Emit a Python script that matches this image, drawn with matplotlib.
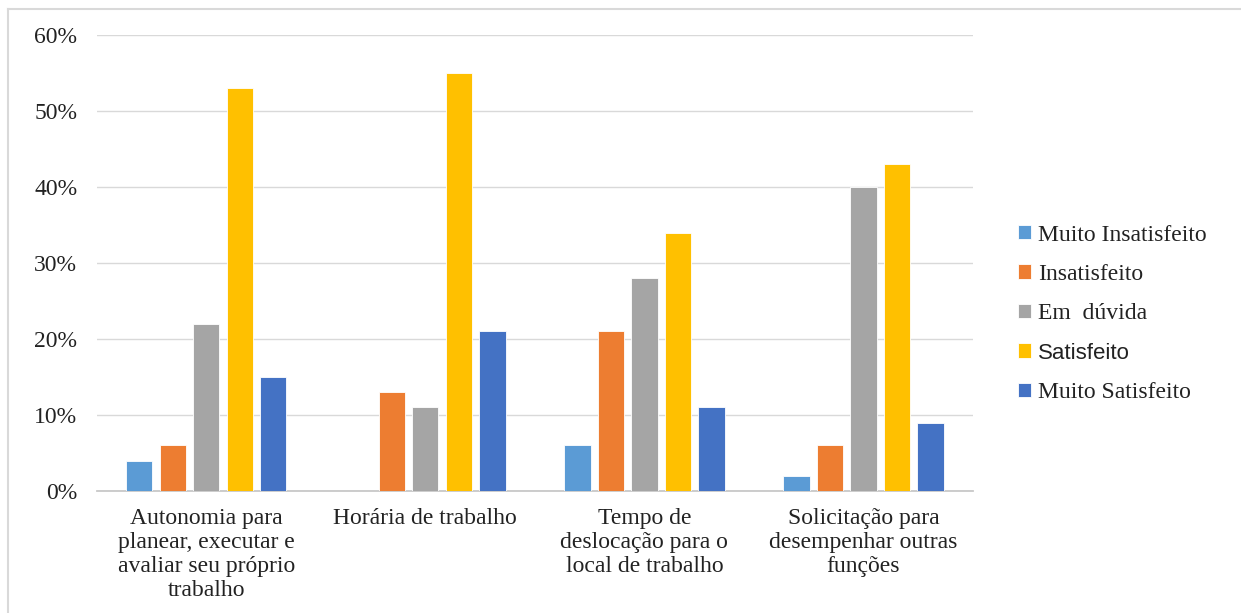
import matplotlib
matplotlib.use("Agg")
import matplotlib.pyplot as plt
import numpy as np
from matplotlib.lines import Line2D

categories = [
    "Autonomia para\nplanear, executar e\navaliar seu próprio\ntrabalho",
    "Horária de trabalho",
    "Tempo de\ndeslocação para o\nlocal de trabalho",
    "Solicitação para\ndesempenhar outras\nfunções",
]
series_names = ["Muito Insatisfeito", "Insatisfeito", "Em  dúvida", "Satisfeito", "Muito Satisfeito"]
muito_insatisfeito = [4, 0, 6, 2]
insatisfeito = [6, 13, 21, 6]
em_duvida = [22, 11, 28, 40]
satisfeito = [53, 55, 34, 43]
muito_satisfeito = [15, 21, 11, 9]
y_ticks = [0, 10, 20, 30, 40, 50, 60]

colors = ["#5B9BD5", "#ED7D31", "#A5A5A5", "#FFC000", "#4472C4"]
values = [muito_insatisfeito, insatisfeito, em_duvida, satisfeito, muito_satisfeito]

serif = "Liberation Serif"
fs = 17

fig = plt.figure(figsize=(12.41, 6.13), dpi=100)
ax = fig.add_axes([0.078, 0.199, 0.706, 0.744])

x = np.arange(len(categories))
step = 0.153
width = 0.12
for i, (name, vals, c) in enumerate(zip(series_names, values, colors)):
    ax.bar(x + (i - 2) * step, vals, width=width, color=c, label=name,
           edgecolor="white", linewidth=0.6, zorder=3)

ax.set_xlim(-0.5, len(categories) - 0.5)
ax.set_ylim(0, 60)
ax.set_yticks(y_ticks)
ax.set_yticklabels([f"{v}%" for v in y_ticks], fontfamily=serif, fontsize=fs)
ax.set_xticks(x)
ax.set_xticklabels(categories, fontfamily=serif, fontsize=fs, linespacing=1.2)
ax.tick_params(axis="both", length=0, colors="#222222")
ax.tick_params(axis="y", pad=14)
ax.tick_params(axis="x", pad=12)

ax.grid(axis="y", color="#D9D9D9", linewidth=1.0, zorder=0)
ax.set_axisbelow(True)
for s in ["top", "right", "left"]:
    ax.spines[s].set_visible(False)
ax.spines["bottom"].set_color("#C8C8C8")
ax.spines["bottom"].set_linewidth(1.3)

leg = fig.legend(loc="center left", bbox_to_anchor=(0.8125, 0.488), frameon=False,
                 prop={"family": serif, "size": fs}, handlelength=0.55, handleheight=0.55,
                 handletextpad=0.3, labelspacing=0.78, borderaxespad=0)
for t in leg.get_texts():
    t.set_color("#222222")
leg.get_texts()[3].set_fontfamily("Liberation Sans")
leg.get_texts()[3].set_fontsize(16)

# outer frame (top and left edges)
fig.add_artist(Line2D([0.0065, 1.0], [0.985, 0.985], transform=fig.transFigure,
                      color="#D9D9D9", linewidth=1.5))
fig.add_artist(Line2D([0.0065, 0.0065], [0.0, 0.985], transform=fig.transFigure,
                      color="#D9D9D9", linewidth=1.5))

fig.savefig("out.png", dpi=100, facecolor="white")
